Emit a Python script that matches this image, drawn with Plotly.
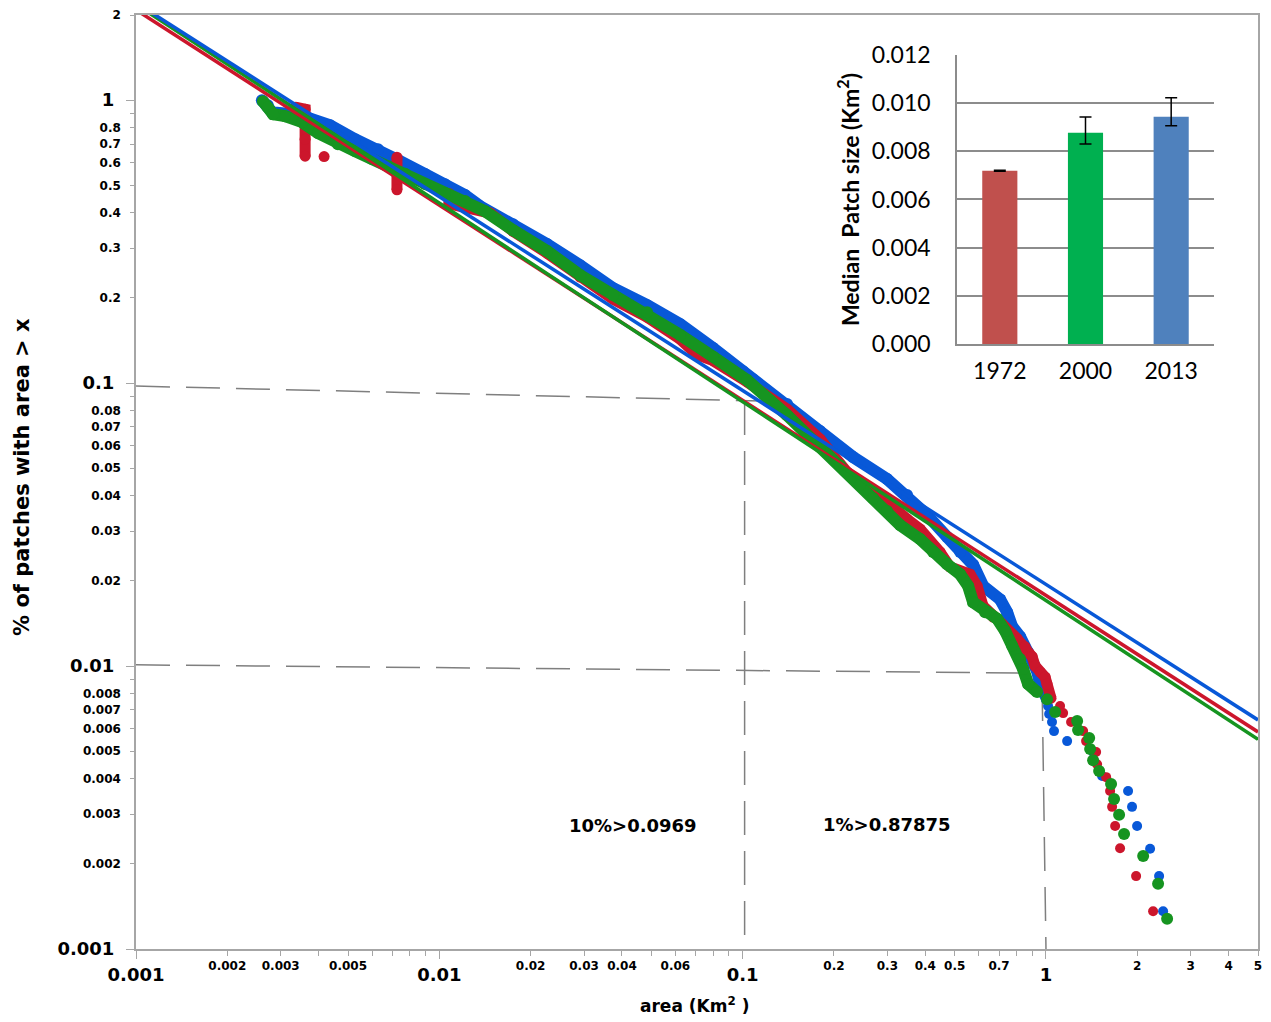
import math
import plotly.graph_objects as go

# ---------------- main chart data ----------------
# 2013 (blue)
blue_dense_x = [0.00260, 0.00272, 0.00281, 0.00347, 0.00436, 0.00527, 0.00628, 0.00731, 0.00897, 0.01044,
                0.01215, 0.01362, 0.0175, 0.02265, 0.0291, 0.0374, 0.0484, 0.0622, 0.0799, 0.1003,
                0.1082, 0.1401, 0.1799, 0.2312, 0.2993, 0.3484, 0.4055, 0.472, 0.5212, 0.5751,
                0.6204, 0.706, 0.7446, 0.7733, 0.8217, 0.8732, 0.935, 0.9564, 1.008]
blue_dense_y = [1.0, 0.960, 0.907, 0.885, 0.816, 0.728, 0.671, 0.614, 0.548, 0.505,
                0.462, 0.422, 0.3645, 0.310, 0.261, 0.2166, 0.1886, 0.1616, 0.133, 0.1102,
                0.1033, 0.0843, 0.0677, 0.0548, 0.0458, 0.0402, 0.0342, 0.0286, 0.0253, 0.0228,
                0.0192, 0.0172, 0.0155, 0.0138, 0.0127, 0.0112, 0.0096, 0.00864, 0.00764]
blue_tail_x = [1.016, 1.024, 1.047, 1.063, 1.174, 1.430, 1.531, 1.865, 1.922, 1.997, 2.204, 2.360, 2.433]
blue_tail_y = [0.00722, 0.00677, 0.00634, 0.00589, 0.00543, 0.00497, 0.00409, 0.00362, 0.00318,
               0.00272, 0.00226, 0.00181, 0.00136]

# 1972 (red) - pixel-quantised areas give vertical drops separated by gaps
red_dense_x = [0.00335, 0.00361, 0.00361, 0.00361, 0.00361, None, 0.00417, None,
               0.00725, 0.00725, 0.00725, None,
               0.01076, 0.01076, 0.0147, 0.0175, 0.02265, 0.0291, 0.0374,
               0.0484, 0.0622, 0.0707, 0.0799, 0.1034, 0.1401, 0.1799, 0.2209, 0.2438, 0.2838,
               0.3484, 0.3845, 0.4475, 0.4829, 0.5621, 0.5928, 0.6204, 0.6693, 0.7168, 0.8032,
               0.8535, 0.9001, 0.9208, 0.9564, 0.9934, 1.008, 1.039]
red_dense_y = [0.945, 0.929, 0.823, 0.728, 0.634, None, 0.632, None,
               0.629, 0.548, 0.482, None,
               0.468, 0.430, 0.399, 0.344, 0.288, 0.237, 0.198,
               0.171, 0.143, 0.126, 0.120, 0.101, 0.0809, 0.0634, 0.0485, 0.0447, 0.0399,
               0.0331, 0.0305, 0.0253, 0.0224, 0.0211, 0.0192, 0.0163, 0.0149, 0.0141, 0.0125,
               0.0117, 0.0108, 0.0100, 0.00952, 0.00914, 0.00864, 0.00770]
red_tail_x = [1.113, 1.139, 1.210, 1.326, 1.356, 1.463, 1.474, 1.579, 1.627, 1.652, 1.690, 1.755, 1.982, 2.255]
red_tail_y = [0.00722, 0.00682, 0.00634, 0.00589, 0.00543, 0.00497, 0.00450, 0.00405, 0.00362,
              0.00318, 0.00272, 0.00227, 0.00181, 0.00136]

# 2000 (green)
green_dense_x = [0.00262, 0.00272, 0.00283, 0.00310, 0.00353, 0.00398, 0.00463, 0.00527, 0.00600, 0.00677,
                 0.00771, 0.00897, 0.01044, 0.01215, 0.01415, 0.0175, 0.02265, 0.0291, 0.0374, 0.0484,
                 0.0622, 0.0799, 0.1034, 0.1401, 0.1799, 0.2095, 0.2438, 0.2692, 0.2993, 0.3304,
                 0.3845, 0.4244, 0.472, 0.5212, 0.5536, 0.5751, 0.6299, 0.690, 0.7333, 0.7733,
                 0.8217, 0.8406, 0.8732, 0.935]
green_dense_y = [0.992, 0.945, 0.892, 0.878, 0.836, 0.765, 0.699, 0.661, 0.619, 0.585,
                 0.550, 0.505, 0.470, 0.440, 0.405, 0.347, 0.293, 0.241, 0.205, 0.178,
                 0.148, 0.124, 0.1025, 0.0770, 0.0594, 0.0513, 0.0436, 0.0392, 0.0353, 0.0315,
                 0.0281, 0.0253, 0.0229, 0.0211, 0.0192, 0.0168, 0.0155, 0.0147, 0.0133, 0.0118,
                 0.0106, 0.00976, 0.00864, 0.00809]
green_tail_x = [1.008, 1.072, 1.267, 1.276, 1.388, 1.398, 1.430, 1.497, 1.639, 1.677, 1.742, 1.809,
                2.091, 2.342, 2.508]
green_tail_y = [0.00764, 0.00688, 0.00639, 0.00594, 0.00557, 0.00509, 0.00465, 0.00426, 0.00383,
                0.00339, 0.00298, 0.00255, 0.00213, 0.00170, 0.00128]

# power-law fit lines (end points)
fit_x = [0.001, 5]
fit_blue_y = [2.21, 0.00645]
fit_red_y = [2.085, 0.00585]
fit_green_y = [2.18, 0.00551]

# dashed guides (10 % and 1 % thresholds)
guide10_h_x = [0.001, 0.117]
guide10_h_y = [0.0976, 0.0864]
guide10_v_x = [0.1015, 0.1015]
guide10_v_y = [0.0864, 0.001]
guide1_h_x = [0.001, 0.834]
guide1_h_y = [0.0101, 0.00945]
guide1_v_x = [0.971, 1.0]
guide1_v_y = [0.00843, 0.001]

# ticks
x_tick_vals = [0.001, 0.002, 0.003, 0.004, 0.005, 0.006, 0.007, 0.008, 0.009,
               0.01, 0.02, 0.03, 0.04, 0.05, 0.06, 0.07, 0.08, 0.09,
               0.1, 0.2, 0.3, 0.4, 0.5, 0.6, 0.7, 0.8, 0.9,
               1, 2, 3, 4, 5]
x_tick_text = ['', '0.002', '0.003', '', '0.005', '', '', '', '',
               '', '0.02', '0.03', '0.04', '', '0.06', '', '', '',
               '', '0.2', '0.3', '0.4', '0.5', '', '0.7', '', '',
               '', '2', '3', '4', '5']
x_major_vals = [0.001, 0.01, 0.1, 1]
x_major_text = ['0.001', '0.01', '0.1', '1']

y_tick_vals = [0.001, 0.002, 0.003, 0.004, 0.005, 0.006, 0.007, 0.008, 0.009,
               0.01, 0.02, 0.03, 0.04, 0.05, 0.06, 0.07, 0.08, 0.09,
               0.1, 0.2, 0.3, 0.4, 0.5, 0.6, 0.7, 0.8, 0.9,
               1, 2]
y_tick_text = ['', '0.002', '0.003', '0.004', '0.005', '0.006', '0.007', '0.008', '',
               '', '0.02', '0.03', '0.04', '0.05', '0.06', '0.07', '0.08', '',
               '', '0.2', '0.3', '0.4', '0.5', '0.6', '0.7', '0.8', '',
               '', '2']
y_major_vals = [0.001, 0.01, 0.1, 1]
y_major_text = ['0.001', '0.01', '0.1', '1']

# ---------------- inset bar chart data ----------------
years = ['1972', '2000', '2013']
median_size = [0.00719, 0.00877, 0.00943]
err_plus = [0.00002, 0.00065, 0.00079]
err_minus = [0.00002, 0.00047, 0.00037]
bar_colors = ['#C0504D', '#00B050', '#4F81BD']

# ---------------- styles ----------------
BLUE = '#0858D8'
RED = '#CC162C'
GREEN = '#169420'
AXIS_GRAY = '#A6A6A6'
GUIDE_GRAY = '#7F7F7F'
INSET_GRAY = '#8C8C8C'

fig = go.Figure()

for gx, gy in [(guide10_h_x, guide10_h_y), (guide10_v_x, guide10_v_y),
               (guide1_h_x, guide1_h_y), (guide1_v_x, guide1_v_y)]:
    fig.add_trace(go.Scatter(x=gx, y=gy, mode='lines',
                             line=dict(color=GUIDE_GRAY, width=1.5, dash='34px,16px'),
                             hoverinfo='skip', showlegend=False))

series = [
    ('2013', blue_dense_x, blue_dense_y, blue_tail_x, blue_tail_y, BLUE, 12, 10),
    ('1972', red_dense_x, red_dense_y, red_tail_x, red_tail_y, RED, 11, 10),
    ('2000', green_dense_x, green_dense_y, green_tail_x, green_tail_y, GREEN, 12, 12),
]
for name, dx, dy, tx, ty, col, lw, ms in series:
    fig.add_trace(go.Scatter(x=dx, y=dy, mode='lines+markers', name=name,
                             line=dict(color=col, width=lw), connectgaps=False,
                             marker=dict(size=lw, color=col, line=dict(width=0)),
                             showlegend=False))
    fig.add_trace(go.Scatter(x=tx, y=ty, mode='markers', name=name,
                             marker=dict(size=ms, color=col, line=dict(width=0)),
                             showlegend=False))

for fy, col in [(fit_red_y, RED), (fit_green_y, GREEN), (fit_blue_y, BLUE)]:
    fig.add_trace(go.Scatter(x=fit_x, y=fy, mode='lines', line=dict(color=col, width=3.5),
                             showlegend=False, hoverinfo='skip'))

# dummy trace to create the overlay axes carrying the large decade labels
fig.add_trace(go.Scatter(x=[None], y=[None], xaxis='x3', yaxis='y3', showlegend=False,
                         hoverinfo='skip'))

# inset bars
fig.add_trace(go.Bar(x=years, y=median_size, marker=dict(color=bar_colors, line=dict(width=0)),
                     error_y=dict(type='data', array=err_plus, arrayminus=err_minus,
                                  color='black', thickness=1.5, width=6),
                     xaxis='x2', yaxis='y2', showlegend=False))

small_font = dict(family='DejaVu Sans', size=12, color='black', weight='bold')
large_font = dict(family='DejaVu Sans', size=18, color='black', weight='bold')
inset_font = dict(family='Lato', size=23, color='black')
xr = [-3, math.log10(5)]
yr = [-3, math.log10(2)]

# the page body has an 8 px margin, so the figure is made 8 px smaller and margins shifted
fig.update_layout(
    width=1263, height=1014,
    margin=dict(l=128, r=13, t=7, b=73),
    paper_bgcolor='white', plot_bgcolor='white',
    showlegend=False,
    bargap=0.59,
    xaxis=dict(type='log', range=xr, tickmode='array', tickvals=x_tick_vals, ticktext=x_tick_text,
               ticks='outside', ticklen=5, tickwidth=1, tickcolor=AXIS_GRAY,
               showline=True, linecolor=AXIS_GRAY, linewidth=1.5, mirror=True, automargin=False,
               showgrid=False, zeroline=False, tickfont=small_font, ticklabelstandoff=0),
    yaxis=dict(type='log', range=yr, tickmode='array', tickvals=y_tick_vals, ticktext=y_tick_text,
               ticks='outside', ticklen=4, tickwidth=1, tickcolor=AXIS_GRAY,
               showline=True, linecolor=AXIS_GRAY, linewidth=1.5, mirror=True, automargin=False,
               showgrid=False, zeroline=False, tickfont=small_font, ticklabelstandoff=7),
    xaxis3=dict(type='log', range=xr, overlaying='x', anchor='y3', tickmode='array',
                tickvals=x_major_vals, ticktext=x_major_text, ticks='outside', ticklen=9,
                tickwidth=1, tickcolor=AXIS_GRAY, showline=False, showgrid=False, zeroline=False,
                automargin=False, tickfont=large_font, ticklabelstandoff=0),
    yaxis3=dict(type='log', range=yr, overlaying='y', anchor='x3', tickmode='array',
                tickvals=y_major_vals, ticktext=y_major_text, ticks='outside', ticklen=9,
                tickwidth=1, tickcolor=AXIS_GRAY, showline=False, showgrid=False, zeroline=False,
                automargin=False, tickfont=large_font, ticklabelstandoff=8),
    xaxis2=dict(domain=[0.7317, 0.9608], anchor='y2', type='category', automargin=False,
                showline=True, linecolor=INSET_GRAY, linewidth=1.5, ticks='', showgrid=False,
                zeroline=False, tickfont=inset_font, ticklabelstandoff=6),
    yaxis2=dict(domain=[0.6478, 0.9572], anchor='x2', range=[0, 0.012], tickmode='linear',
                tick0=0, dtick=0.002, tickformat='.3f', showgrid=True, gridcolor=INSET_GRAY,
                gridwidth=1.5, showline=True, linecolor=INSET_GRAY, linewidth=1.5, ticks='',
                automargin=False, zeroline=False, tickfont=inset_font, ticklabelstandoff=20),
)

ann_font = dict(family='DejaVu Sans', size=18, color='black', weight='bold')
fig.add_annotation(text='% of patches with area > x', xref='paper', yref='paper',
                   x=-0.1016, y=0.5054, xanchor='center', yanchor='middle', textangle=-90,
                   showarrow=False,
                   font=dict(family='DejaVu Sans', size=21, color='black', weight='bold'))
fig.add_annotation(text='area (Km<sup>2</sup> )', xref='paper', yref='paper',
                   x=0.4982, y=-0.06, xanchor='center', yanchor='middle', showarrow=False,
                   font=dict(family='DejaVu Sans', size=17, color='black', weight='bold'))
fig.add_annotation(text='Median\u00a0 Patch size (Km<sup>2</sup>)', xref='paper', yref='paper',
                   x=0.6346, y=0.8019, xanchor='center', yanchor='middle', textangle=-90,
                   showarrow=False, font=dict(family='Lato', size=23, color='black', weight='bold'))
fig.add_annotation(text='10%>0.0969', xref='paper', yref='paper', x=0.443, y=0.1317,
                   xanchor='center', yanchor='middle', showarrow=False, font=ann_font)
fig.add_annotation(text='1%>0.87875', xref='paper', yref='paper', x=0.6693, y=0.1328,
                   xanchor='center', yanchor='middle', showarrow=False, font=ann_font)

fig.write_html('out.html')
